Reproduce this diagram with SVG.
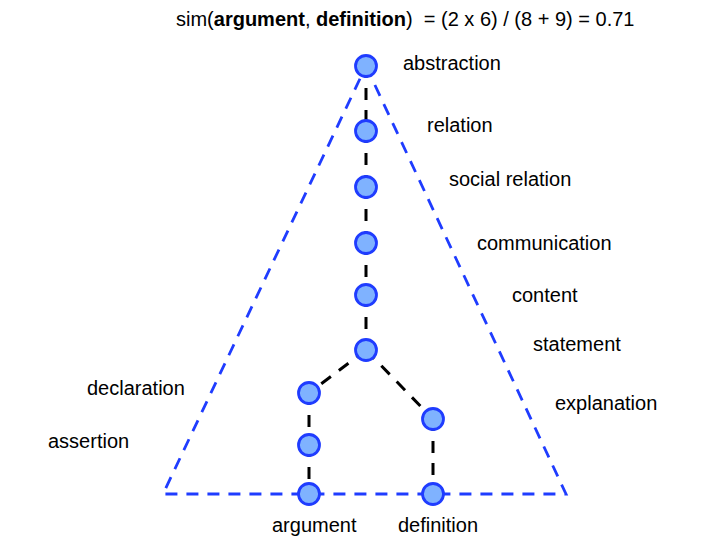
<svg xmlns="http://www.w3.org/2000/svg" width="723" height="542" viewBox="0 0 723 542">
<style>
text{font-family:"Liberation Sans",Arial,sans-serif;font-size:20px;fill:#000;white-space:pre}
.n{fill:#7fb2ff;stroke:#1f3cff;stroke-width:2.8}
.e{stroke:#000;stroke-width:3;stroke-dasharray:12 10;fill:none}
.t{stroke:#1f3cff;stroke-width:2.8;stroke-dasharray:12 9;fill:none}
</style>
<rect width="723" height="542" fill="#fff"/>
<text x="176" y="26" xml:space="preserve">sim(<tspan font-weight="bold">argument</tspan>, <tspan font-weight="bold">definition</tspan>)  = (2 x 6) / (8 + 9) = 0.71</text>
<g id="triangle">
<polyline class="t" points="366,66 566,494 163,494 366,66"/>
</g>
<g id="connectors">
<line class="e" x1="366" y1="66" x2="366" y2="131"/>
<line class="e" x1="366" y1="131" x2="366" y2="187"/>
<line class="e" x1="366" y1="187" x2="366" y2="243"/>
<line class="e" x1="366" y1="243" x2="366" y2="295"/>
<line class="e" x1="366" y1="295" x2="366" y2="350"/>
<line class="e" x1="366" y1="350" x2="309" y2="393"/>
<line class="e" x1="366" y1="350" x2="433" y2="419"/>
<line class="e" x1="309" y1="393" x2="309" y2="445"/>
<line class="e" x1="309" y1="445" x2="309" y2="494"/>
<line class="e" x1="433" y1="419" x2="433" y2="494"/>
</g>
<g id="abstraction"><circle class="n" cx="366" cy="66" r="10.5"/><text x="403" y="70">abstraction</text></g>
<g id="relation"><circle class="n" cx="366" cy="131" r="10.5"/><text x="427" y="132">relation</text></g>
<g id="social-relation"><circle class="n" cx="366" cy="187" r="10.5"/><text x="449" y="186">social relation</text></g>
<g id="communication"><circle class="n" cx="366" cy="243" r="10.5"/><text x="477" y="250">communication</text></g>
<g id="content"><circle class="n" cx="366" cy="295" r="10.5"/><text x="512" y="302">content</text></g>
<g id="statement"><circle class="n" cx="366" cy="350" r="10.5"/><text x="533" y="351">statement</text></g>
<g id="declaration"><circle class="n" cx="309" cy="393" r="10.5"/><text x="87" y="395">declaration</text></g>
<g id="assertion"><circle class="n" cx="309" cy="445" r="10.5"/><text x="48" y="448">assertion</text></g>
<g id="argument"><circle class="n" cx="309" cy="494" r="10.5"/><text x="272" y="532">argument</text></g>
<g id="explanation"><circle class="n" cx="433" cy="419" r="10.5"/><text x="555" y="410">explanation</text></g>
<g id="definition"><circle class="n" cx="433" cy="494" r="10.5"/><text x="398" y="532">definition</text></g>
</svg>
